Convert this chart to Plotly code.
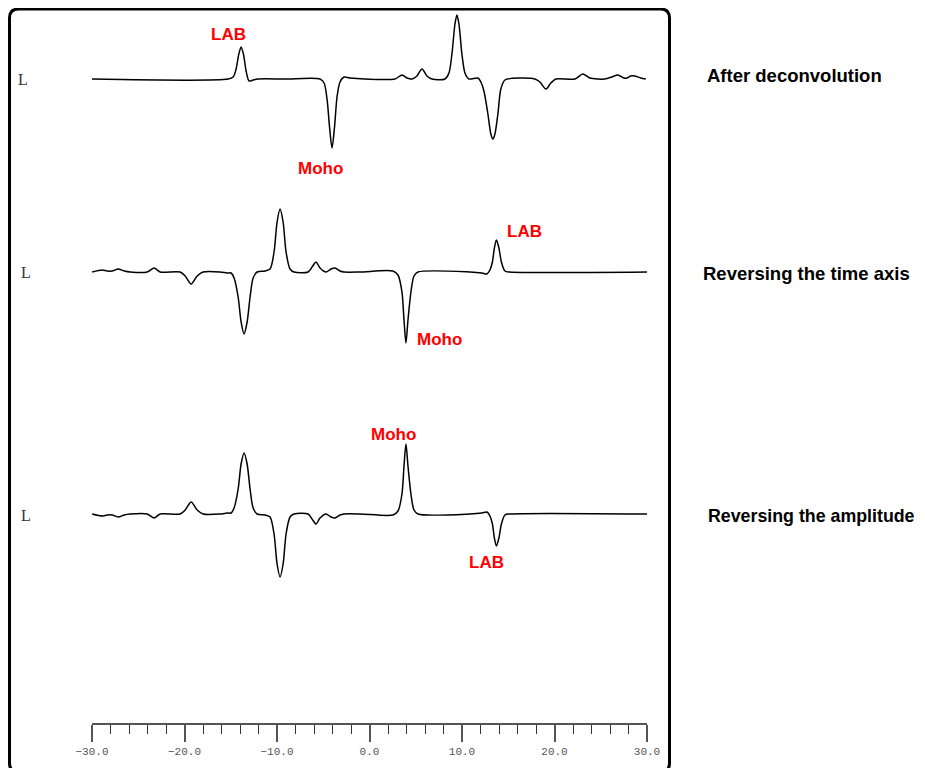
import plotly.graph_objects as go

# ---------------- data (time in s, amplitude in arbitrary units) ----------------
t_decon = [-30.30, -15.28, -14.74, -14.42, -14.15, -13.88, -13.61, -13.34, -13.02, -12.58,
           -12.04, -9.13, -5.35, -4.91, -4.59, -4.32, -4.05, -3.78, -3.51, -3.19,
           -2.75, -2.11, -0.49, 2.75, 3.51, 4.05, 4.59, 5.13, 5.67, 6.21,
           6.75, 8.16, 8.59, 8.91, 9.24, 9.45, 9.67, 9.99, 10.32, 10.75,
           11.72, 12.04, 12.37, 12.80, 13.12, 13.34, 13.56, 13.88, 14.20, 14.64,
           16.26, 17.88, 18.42, 19.07, 19.61, 20.15, 22.20, 23.06, 23.82, 25.44,
           26.19, 26.84, 27.49, 27.82, 28.25, 28.68, 29.33, 29.87]
a_decon = [0, 0, 2, 10, 24, 32, 24, 8, -2, -1,
           0, 0, 0, -4, -20, -48, -69, -48, -18, -3,
           2, 1, 0, 0, 4, 1, 0, 3, 10, 3,
           0, 0, 6, 25, 55, 64, 55, 25, 6, 0,
           1, -3, -12, -35, -55, -60, -55, -35, -10, -1,
           1, 0, -3, -10, -4, 0, 0, 5, 1, 0,
           2, 4, 1, 1, 3, 3, 1, 0]

t_rev = [-29.98, -28.90, -28.36, -27.82, -27.17, -26.52, -25.87, -24.03, -23.28, -22.63,
         -20.47, -19.93, -19.28, -18.63, -17.99, -16.15, -15.39, -14.96, -14.64, -14.20,
         -13.88, -13.56, -13.23, -12.91, -12.58, -12.15, -11.29, -10.75, -10.32, -9.99,
         -9.67, -9.34, -9.02, -8.59, -8.16, -6.64, -6.21, -5.78, -5.35, -4.70,
         -4.16, -3.73, -3.19, -2.75, -1.03, 2.54, 3.08, 3.51, 3.73, 3.94,
         4.16, 4.48, 4.81, 5.24, 10.86, 12.15, 12.69, 13.02, 13.29, 13.50,
         13.72, 13.99, 14.26, 14.64, 15.18, 30.08]
a_rev = [0, 2, 1, 1, 3, 1, 0, 0, 4, 0,
         0, -4, -12, -4, 0, 0, -1, -1, -6, -25,
         -50, -62, -50, -25, -6, 0, 1, 3, 20, 50,
         63, 50, 20, 3, 0, 0, 5, 10, 4, 0,
         3, 4, 1, 0, 0, 1, -3, -20, -48, -71,
         -48, -20, -4, 0, 0, -1, -2, 2, 10, 24,
         32, 24, 10, 1, 0, 0]

t_amp = list(t_rev)
a_amp = [0, -2, -1, -1, -3, -1, 0, 0, -4, 0,
         0, 4, 12, 4, 0, 0, 1, 1, 6, 25,
         50, 61, 50, 25, 6, 0, -1, -3, -20, -50,
         -63, -50, -20, -3, 0, 0, -5, -10, -4, 0,
         -3, -4, -1, 0, 0, -1, 3, 20, 48, 70,
         48, 20, 4, 0, 0, 1, 2, -2, -10, -24,
         -32, -24, -10, -1, 0, 0]

panel_titles = ["After deconvolution", "Reversing the time axis", "Reversing the amplitude"]
tick_vals = [-30, -20, -10, 0, 10, 20, 30]

# ---------------- layout geometry (pixels, page coords) ----------------
W, H = 917, 760
PAGE = 8                      # default body margin of the html page
L_PX, R_PX = 92 - PAGE, 647 - PAGE   # x=-30 and x=30
T_PX, B_PX = 10 - PAGE, 723 - PAGE   # top of plot area, axis line
PLOT_H = B_PX - T_PX
baselines_px = [79 - PAGE, 272 - PAGE, 514 - PAGE]
offsets = [B_PX - b for b in baselines_px]


def px(xp):
    return (xp - PAGE - L_PX) / (R_PX - L_PX)


def py(yp):
    return (B_PX - (yp - PAGE)) / PLOT_H


fig = go.Figure()
for t, a, off in zip([t_decon, t_rev, t_amp], [a_decon, a_rev, a_amp], offsets):
    fig.add_trace(go.Scatter(
        x=t, y=[v + off for v in a], mode="lines",
        line=dict(color="black", width=1.5, shape="spline", smoothing=0.8),
        hoverinfo="skip", showlegend=False))

# red phase labels (data coordinates)
red = dict(family="Liberation Sans, Arial, sans-serif", size=17, color="#ff0000")
labels = [("LAB", -15.26, offsets[0] + 45), ("Moho", -5.35, offsets[0] - 89),
          ("LAB", 16.80, offsets[1] + 41), ("Moho", 7.61, offsets[1] - 67),
          ("Moho", 2.54, offsets[2] + 80), ("LAB", 12.69, offsets[2] - 48)]
ann = []
for txt, x, y in labels:
    ann.append(dict(text="<b>%s</b>" % txt, x=x, y=y, xref="x", yref="y",
                    showarrow=False, font=red, xanchor="center", yanchor="middle"))

# panel titles on the right (left edges)
title_pos = [(705, 75), (701, 273), (706, 516)]
title_size = [18.5, 18.5, 17.8]
for txt, (xp, yp), fs in zip(panel_titles, title_pos, title_size):
    ann.append(dict(text="<b>%s</b>" % txt, x=px(xp), y=py(yp), xref="paper", yref="paper",
                    showarrow=False, xanchor="left", yanchor="middle",
                    font=dict(family="Liberation Sans, Arial, sans-serif", size=fs, color="black")))

# component labels "L"
for xp, yp in [(23, 79), (26, 272), (26, 515)]:
    ann.append(dict(text="L", x=px(xp), y=py(yp), xref="paper", yref="paper",
                    showarrow=False, xanchor="center", yanchor="middle",
                    font=dict(family="Liberation Serif, Times New Roman, serif", size=16, color="#333")))

# rounded frame
x0, x1, y0, y1, r = 9.5, 669.5, 9, 772, 9
rx = r / (R_PX - L_PX)
ry = r / PLOT_H
X0, X1, Y0, Y1 = px(x0), px(x1), py(y0), py(y1)
path = (f"M {X0},{Y0 - ry} Q {X0},{Y0} {X0 + rx},{Y0} "
        f"L {X1 - rx},{Y0} Q {X1},{Y0} {X1},{Y0 - ry} "
        f"L {X1},{Y1 + ry} Q {X1},{Y1} {X1 - rx},{Y1} "
        f"L {X0 + rx},{Y1} Q {X0},{Y1} {X0},{Y1 + ry} Z")

fig.update_layout(
    width=W, height=H,
    margin=dict(l=L_PX, r=W - R_PX, t=T_PX, b=H - B_PX),
    paper_bgcolor="white", plot_bgcolor="white",
    annotations=ann,
    shapes=[dict(type="path", path=path, xref="paper", yref="paper",
                 line=dict(color="black", width=3), layer="above")],
    xaxis=dict(range=[-30, 30], tickvals=tick_vals, tickformat=".1f",
               showline=True, linecolor="#555", linewidth=1.5,
               ticks="outside", ticklen=17, tickwidth=1.5, tickcolor="#555",
               minor=dict(dtick=2, ticks="outside", ticklen=9, tickwidth=1.2, tickcolor="#333",
                          showgrid=False),
               showgrid=False, zeroline=False,
               tickfont=dict(family="Liberation Mono, Courier New, monospace", size=11, color="#555")),
    yaxis=dict(range=[0, PLOT_H], visible=False, showgrid=False, zeroline=False),
)

fig.write_html("out.html")
